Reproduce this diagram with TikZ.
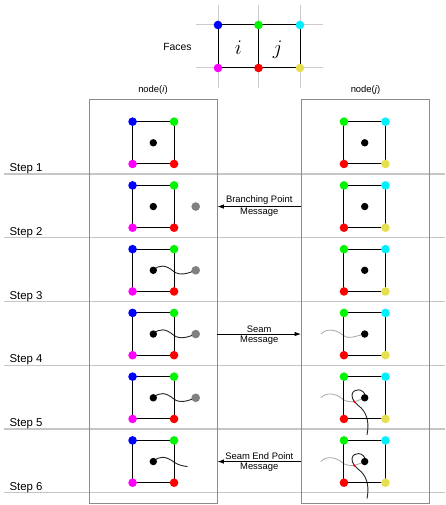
\documentclass[tikz,border=0pt]{standalone}
\usepackage{fontspec}
\setmainfont{Liberation Sans}
\usetikzlibrary{positioning,arrows.meta}
\definecolor{dgreen}{RGB}{0,245,0}
\definecolor{dyellow}{RGB}{230,224,80}
\definecolor{dcyan}{RGB}{0,240,255}
\definecolor{dmagenta}{RGB}{255,0,255}
\definecolor{dblue}{RGB}{0,0,255}
\definecolor{dred}{RGB}{255,0,0}
% square of one face: #1,#2 centre, then colours tl, tr, bl, br
\newcommand{\facesq}[6]{%
  \draw[sqline] (#1-20.75,#2-21.15) rectangle (#1+20.75,#2+21.15);
  \fill[#3] (#1-20.75,#2-21.15) circle (4.3pt);
  \fill[#4] (#1+20.75,#2-21.15) circle (4.3pt);
  \fill[#5] (#1-20.75,#2+21.15) circle (4.3pt);
  \fill[#6] (#1+20.75,#2+21.15) circle (4.3pt);
  \fill (#1,#2) circle (3.7pt);}
% seam leaving face i towards the branching point
\newcommand{\seamleft}[1]{%
  \draw[seam] (153.3,#1) .. controls (159,#1-6) and (166,#1-5.5) .. (173.5,#1+1)
    .. controls (180,#1+6) and (188,#1+3) .. (195.7,#1);}
% seam arriving in face j
\newcommand{\seamright}[1]{%
  \draw[seamin] (321,#1) .. controls (325,#1-5) and (335,#1-6) .. (343.5,#1+1.5)
    .. controls (350,#1+6) and (357,#1+1) .. (365.7,#1);}
% seam in face j with its end point
\newcommand{\seamend}[1]{%
  \draw[seamin] (321,#1) .. controls (325,#1-5) and (335,#1-6) .. (343.5,#1+2)
    .. controls (347,#1+4) and (351,#1+4) .. (354.3,#1+4) -- (365.7,#1);
  \draw[seam] (365.7,#1-1) .. controls (364,#1-10) and (353,#1-10) .. (352,#1-3)
    .. controls (351.5,#1+2) and (356,#1+6) .. (361,#1+10)
    .. controls (368,#1+17) and (369,#1+27) .. (367,#1+37);
  \fill[dred] (354.3,#1+4) circle (1.2pt);}

\begin{document}
\begin{tikzpicture}[x=1pt,y=-1pt,
    sqline/.style={black,line width=1pt},
    gridline/.style={gray!40,line width=1pt},
    stepline/.style={gray!45,line width=1.2pt},
    nodebox/.style={draw=gray!90,line width=0.9pt,minimum width=128pt,minimum height=403.7pt,inner sep=0pt},
    seam/.style={black!85,line width=0.9pt},
    seamin/.style={gray!70,line width=0.8pt},
    msg/.style={black,line width=0.8pt,-{Latex[length=6.5pt,width=4.5pt]}},
    msgtxt/.style={font=\fontsize{9.4}{10}\selectfont,inner sep=1.3pt},
    steplbl/.style={font=\fontsize{11.4}{12}\selectfont,anchor=base west,inner sep=0pt}]
  \useasboundingbox (0,0) rectangle (445,505);
  % the two faces
  \foreach \x in {218,258.5,300}
    \draw[gridline] (\x,5) -- (\x,88);
  \foreach \y in {25,68}
    \draw[gridline] (196,\y) -- (323,\y);
  \draw[sqline] (218,25) rectangle (300,68);
  \draw[sqline] (258.5,25) -- (258.5,68);
  \foreach \x/\c in {218/dblue,258.5/dgreen,300/dcyan}
    \fill[\c] (\x,25) circle (4.3pt);
  \foreach \x/\c in {218/dmagenta,258.5/dred,300/dyellow}
    \fill[\c] (\x,68) circle (4.3pt);
  \node[anchor=base,font=\fontsize{20}{20}\selectfont] (facei) at (238.3,54.3) {$i$};
  \node[anchor=base,font=\fontsize{20}{20}\selectfont] (facej) at (277.7,54.3) {$j$};
  \node[anchor=base,font=\fontsize{10.4}{11}\selectfont] (faces) at (177.5,50.8) {Faces};
  % steps
  \foreach \k in {1,...,6}{%
    \pgfmathsetmacro{\ly}{174+63.75*(\k-1)}
    \draw[stepline] (4,\ly) -- (445,\ly);
    \node[steplbl] (step\k) at (9.3,\ly-2.4) {Step \k};
  }
  % the two nodes
  \node[nodebox] (boxi) at (153,301.2) {};
  \node[nodebox] (boxj) at (365.5,301.2) {};
  \node[above=4pt of boxi,font=\fontsize{9.4}{10}\selectfont,inner sep=0pt] (labi) {node(\textit{i})};
  \node[above=4pt of boxj,font=\fontsize{9.4}{10}\selectfont,inner sep=0pt] (labj) {node(\textit{j})};
  % seams under the dots
  \seamleft{270.3}
  \seamleft{334.05}
  \seamleft{397.8}
  \draw[seam] (153.3,461.55) .. controls (159,455.55) and (166,456.05) .. (174,462.05)
    .. controls (178,465.05) and (183,466.05) .. (187.5,466.55);
  \seamright{334.05}
  \seamend{397.8}
  \seamend{461.55}
  \foreach \k in {1,...,6}{%
    \pgfmathsetmacro{\cy}{142.8+63.75*(\k-1)}
    \facesq{153.3}{\cy}{dblue}{dgreen}{dmagenta}{dred}
    \facesq{364.7}{\cy}{dgreen}{dcyan}{dred}{dyellow}
  }
  \foreach \y in {206.55,270.3,334.05,397.8}
    \fill[gray] (195.7,\y) circle (4.3pt);
  % messages
  \coordinate (m2) at (0,206.55);
  \coordinate (m4) at (0,334.05);
  \coordinate (m6) at (0,461.55);
  \draw[msg] (boxj.west |- m2) -- (boxi.east |- m2)
    node[midway,above,msgtxt] (bpa) {Branching Point}
    node[midway,below,msgtxt] (bpb) {Message};
  \draw[msg] (boxi.east |- m4) -- (boxj.west |- m4)
    node[midway,above,msgtxt] (sma) {Seam}
    node[midway,below,msgtxt] (smb) {Message};
  \draw[msg] (boxj.west |- m6) -- (boxi.east |- m6)
    node[midway,above,msgtxt] (sea) {Seam End Point}
    node[midway,below,msgtxt] (seb) {Message};
\end{tikzpicture}
\end{document}
